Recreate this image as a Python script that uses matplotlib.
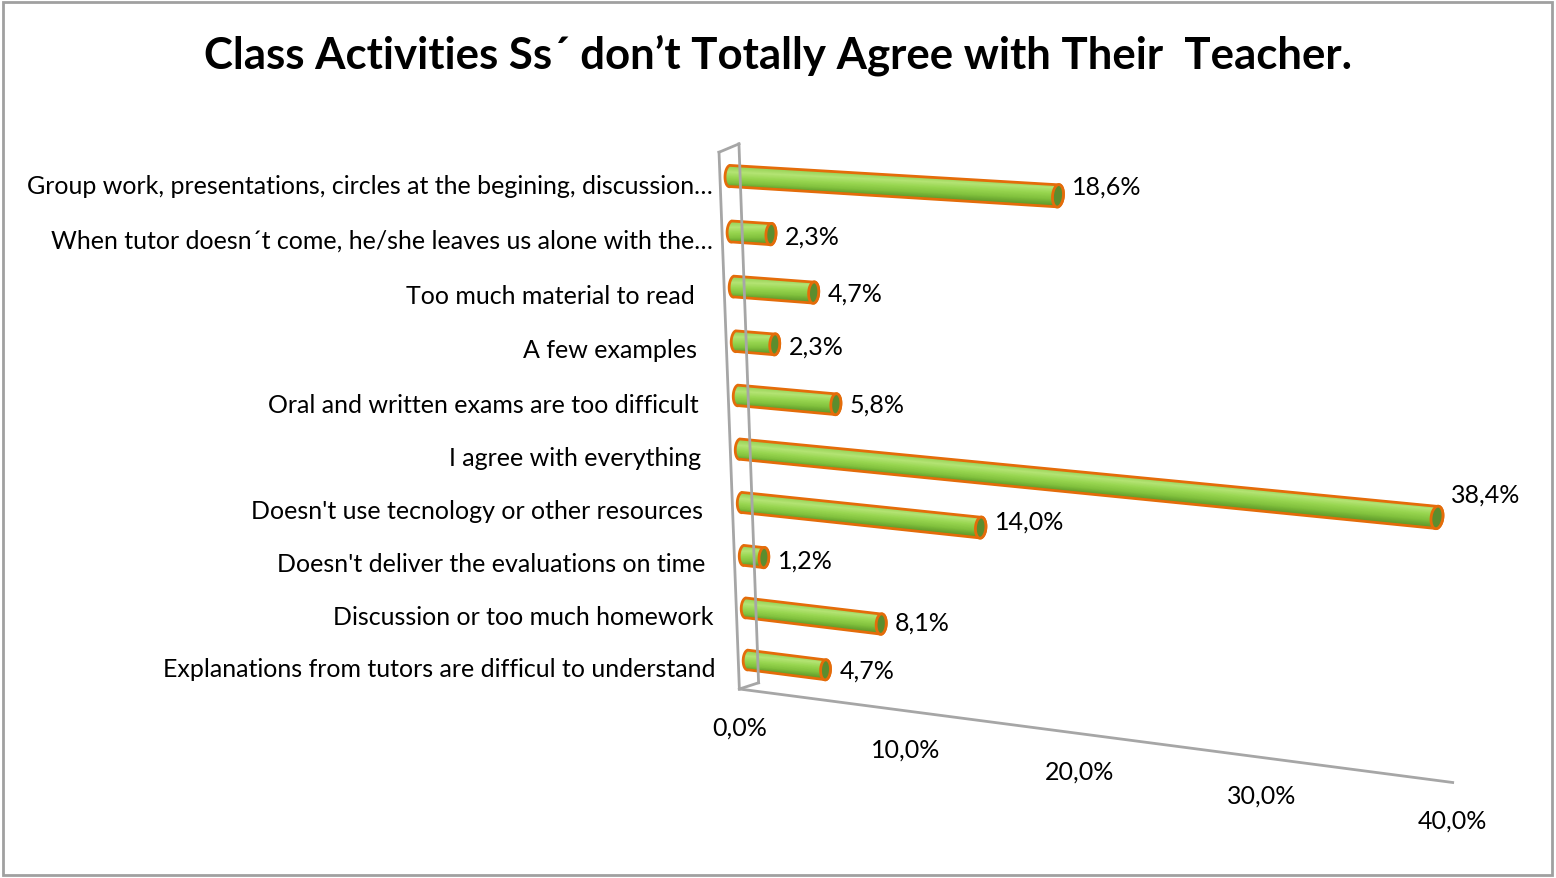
import numpy as np
import matplotlib
matplotlib.use("Agg")
import matplotlib.pyplot as plt
import matplotlib.transforms as mtransforms
from matplotlib.collections import PolyCollection
from matplotlib.patches import Polygon, Rectangle
from matplotlib.colors import LinearSegmentedColormap

plt.rcParams['font.family'] = ['Lato', 'DejaVu Sans']

title = "Class Activities Ss´ don’t Totally Agree with Their  Teacher."
categories = [
    "Group work, presentations, circles at the begining, discussion…",
    "When tutor doesn´t come, he/she leaves us alone with the…",
    "Too much material to read ",
    "A few examples ",
    "Oral and written exams are too difficult ",
    "I agree with everything ",
    "Doesn't use tecnology or other resources ",
    "Doesn't deliver the evaluations on time ",
    "Discussion or too much homework",
    "Explanations from tutors are difficul to understand",
]
values = [18.6, 2.3, 4.7, 2.3, 5.8, 38.4, 14.0, 1.2, 8.1, 4.7]
ticks = [0, 10, 20, 30, 40]


def pct(v):
    return f"{v:.1f}%".replace(".", ",")


# perspective frame: (value, row) corners -> pixel position
frame_src = [(0, 0), (40, 0), (0, 9), (40, 9)]
frame_dst = [(730, 177), (1474, 222), (748, 661), (1465, 752)]


def homography(src, dst):
    A, b = [], []
    for (u, w), (x, y) in zip(src, dst):
        A.append([u, w, 1, 0, 0, 0, -u * x, -w * x]); b.append(x)
        A.append([0, 0, 0, u, w, 1, -u * y, -w * y]); b.append(y)
    h = np.linalg.solve(np.array(A, float), np.array(b, float))
    return np.append(h, 1).reshape(3, 3)


class Perspective(mtransforms.Transform):
    input_dims = output_dims = 2

    def __init__(self, H):
        super().__init__()
        self.H = H

    def transform_non_affine(self, values):
        v = np.asarray(values, float).reshape(-1, 2)
        p = np.column_stack([v, np.ones(len(v))]) @ self.H.T
        return p[:, :2] / p[:, 2:3]


def depth(v, r, d):
    # shift along the depth axis of the 3d box
    return v + 1.2 * d, r - 0.17 * d


fig = plt.figure(figsize=(15.56, 8.79), dpi=100)
ax = fig.add_axes([0, 0, 1, 1])
ax.set_xlim(0, 1556)
ax.set_ylim(879, 0)
ax.axis("off")

persp = Perspective(homography(frame_src, frame_dst))
T = persp + ax.transData

# chart border
ax.add_patch(Rectangle((3, 3), 1549, 873, fill=False, ec="#a0a0a0", lw=2))

ax.text(778, 55, title, ha="center", va="center", fontsize=31.5, fontweight="bold")

# back wall and floor edge
grey = "#a6a6a6"
r0, r1 = -0.5, 9.5
for d in (-0.5, 0.5):
    a, b = depth(0, r0, d), depth(0, r1, d)
    ax.plot([a[0], b[0]], [a[1], b[1]], color=grey, lw=2, transform=T)
for r in (r0, r1):
    a, b = depth(0, r, -0.5), depth(0, r, 0.5)
    ax.plot([a[0], b[0]], [a[1], b[1]], color=grey, lw=2, transform=T)
a, b = depth(0, r1, -0.5), depth(ticks[-1], r1, -0.5)
ax.plot([a[0], b[0]], [a[1], b[1]], color=grey, lw=2, transform=T)

for t in ticks:
    p = depth(t, r1, -0.5)
    ax.text(p[0], p[1], pct(t), ha="center", va="center", fontsize=18,
            transform=mtransforms.offset_copy(T, fig=fig, x=0, y=-38, units="dots"))

# cylinders
shade = LinearSegmentedColormap.from_list(
    "cyl", ["#92cf52", "#b4e474", "#98d650", "#82c23e", "#5f9a2a"])
orange = "#e46c0a"
rad_r, rad_v, rad_tilt = 0.19, 0.3, 0.04
phi = np.linspace(0, 2 * np.pi, 60)

for i, v in enumerate(values):
    tt = np.linspace(-1, 1, 31)
    s = np.sqrt(1 - tt ** 2)
    strips, cols = [], []
    for k in range(len(tt) - 1):
        q = []
        for t, sv in ((tt[k], s[k]), (tt[k + 1], s[k + 1])):
            q.append((-rad_v * sv, i + rad_r * t + rad_tilt * sv))
        for t, sv in ((tt[k + 1], s[k + 1]), (tt[k], s[k])):
            q.append((v + rad_v * sv, i + rad_r * t - rad_tilt * sv))
        strips.append(q)
        cols.append(shade((k + 0.5) / (len(tt) - 1)))
    ax.add_collection(PolyCollection(strips, facecolors=cols, edgecolors=cols,
                                     linewidths=0.8, transform=T))

    # silhouette outline: left rounded end, right end cap
    pl = np.linspace(np.pi, 2 * np.pi, 30)
    pr = np.linspace(0, np.pi, 30)
    left = np.column_stack([rad_v * np.sin(pl),
                            i + rad_r * np.cos(pl) - rad_tilt * np.sin(pl)])
    right = np.column_stack([v + rad_v * np.sin(pr),
                             i + rad_r * np.cos(pr) - rad_tilt * np.sin(pr)])
    ax.add_patch(Polygon(np.vstack([left, right]), closed=True, fill=False,
                         ec=orange, lw=2, transform=T))
    cap = np.column_stack([v + rad_v * np.sin(phi),
                           i + rad_r * np.cos(phi) - rad_tilt * np.sin(phi)])
    ax.add_patch(Polygon(cap, closed=True, fc="#5b8d2e", ec=orange, lw=2,
                         transform=T))

    dy = 3.5 - 0.7 * v
    ax.text(v, i, pct(v), ha="left", va="center", fontsize=18,
            transform=mtransforms.offset_copy(T, fig=fig, x=14, y=-dy, units="dots"))

# category labels along the wall
for i, lab in enumerate(categories):
    wx, wy = ax.transData.inverted().transform(T.transform(depth(0, i, -0.5)))
    xr = 713 if lab.endswith("…") else wx - 23
    ax.text(xr, wy + 5, lab, ha="right", va="center", fontsize=18)

fig.savefig("out.png", dpi=100)
